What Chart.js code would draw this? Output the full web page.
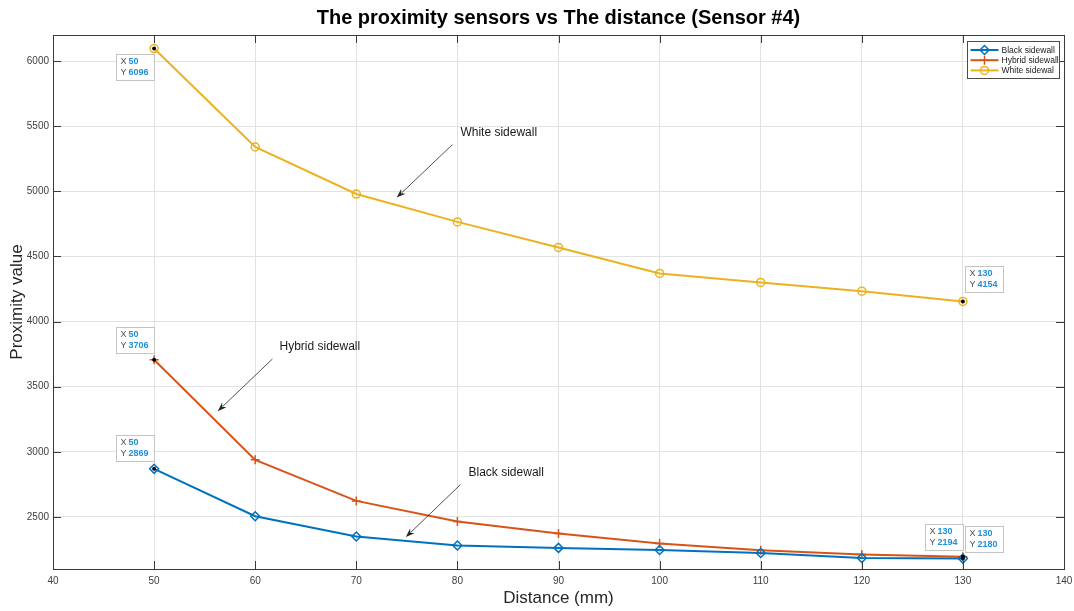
<!DOCTYPE html>
<html>
<head>
<meta charset="utf-8">
<title>The proximity sensors vs The distance (Sensor #4)</title>
<script src="https://cdn.jsdelivr.net/npm/chart.js@4.4.1/dist/chart.umd.min.js"></script>
<style>
  html, body { margin: 0; padding: 0; background: #ffffff; }
  #wrap { width: 1074px; height: 611px; }
</style>
</head>
<body>
<div id="wrap"><canvas id="c" width="1074" height="611"></canvas></div>
<script>
// Measured sensor readings (sensor #4) against target distance in mm
const distances      = [50, 60, 70, 80, 90, 100, 110, 120, 130];
const blackSidewall  = [2869, 2505, 2350, 2280, 2262, 2246, 2223, 2184, 2180];
const hybridSidewall = [3706, 2938, 2623, 2465, 2372, 2296, 2244, 2212, 2194];
const whiteSidewall  = [6096, 5340, 4979, 4765, 4569, 4369, 4300, 4233, 4154];

const seriesNames = ['Black sidewall', 'Hybrid sidewall', 'White sidewal'];

// Axis ticks
const xTicks = [40, 50, 60, 70, 80, 90, 100, 110, 120, 130, 140];
const yTicks = [2500, 3000, 3500, 4000, 4500, 5000, 5500, 6000];

const FONT = '"Liberation Sans", Arial, Helvetica, sans-serif';
const COLORS = ['#0072BD', '#D95319', '#EDB120'];
const STYLES = ['rectRot', 'cross', 'circle'];
const RADII = [4.5, 4.5, 4];

// Data tips: which series / point, and where the box sits relative to the point
const dataTips = [
  { ds: 2, idx: 0, dx: -38, dy: 5 },
  { ds: 1, idx: 0, dx: -38, dy: -33 },
  { ds: 0, idx: 0, dx: -38, dy: -34 },
  { ds: 1, idx: 8, dx: -38, dy: -33 },
  { ds: 0, idx: 8, dx: 2, dy: -33 },
  { ds: 2, idx: 8, dx: 2, dy: -35 }
];

// Text arrows, anchored in data units (label position, arrow tail, arrow head)
const arrowNotes = [
  { text: 'White sidewall',  tx: 80.3, ty: 5450, x0: 79.5, y0: 5358, x1: 74.0, y1: 4952 },
  { text: 'Hybrid sidewall', tx: 62.4, ty: 3804, x0: 61.7, y0: 3712, x1: 56.3, y1: 3312 },
  { text: 'Black sidewall',  tx: 81.1, ty: 2842, x0: 80.3, y0: 2748, x1: 74.9, y1: 2345 }
];

const seriesValues = [blackSidewall, hybridSidewall, whiteSidewall];

const datasets = seriesValues.map((vals, i) => ({
  label: seriesNames[i],
  data: distances.map((d, k) => ({ x: d, y: vals[k] })),
  borderColor: COLORS[i],
  backgroundColor: 'rgba(255,255,255,0)',
  borderWidth: 2,
  pointStyle: STYLES[i],
  pointRadius: RADII[i],
  pointBorderWidth: 1.5,
  pointBorderColor: COLORS[i],
  pointBackgroundColor: 'rgba(255,255,255,0)',
  pointHoverRadius: RADII[i],
  tension: 0,
  fill: false
}));

// Box frame, inward tick marks, title and axis labels
const framePlugin = {
  id: 'frame',
  afterDatasetsDraw(chart) {
    const { ctx, chartArea: a, scales } = chart;
    ctx.save();
    ctx.strokeStyle = '#3a3a3a';
    ctx.lineWidth = 1;
    ctx.strokeRect(Math.round(a.left) + 0.5, Math.round(a.top) + 0.5,
                   Math.round(a.right - a.left), Math.round(a.bottom - a.top));
    const tl = 8;
    ctx.beginPath();
    xTicks.forEach(v => {
      const x = Math.round(scales.x.getPixelForValue(v)) + 0.5;
      ctx.moveTo(x, a.bottom); ctx.lineTo(x, a.bottom - tl);
      ctx.moveTo(x, a.top); ctx.lineTo(x, a.top + tl);
    });
    yTicks.forEach(v => {
      const y = Math.round(scales.y.getPixelForValue(v)) + 0.5;
      ctx.moveTo(a.left, y); ctx.lineTo(a.left + tl, y);
      ctx.moveTo(a.right, y); ctx.lineTo(a.right - tl, y);
    });
    ctx.stroke();
    ctx.restore();
  },
  afterDraw(chart) {
    const { ctx, chartArea: a } = chart;
    const cx = (a.left + a.right) / 2;
    ctx.save();
    ctx.fillStyle = '#000000';
    ctx.textAlign = 'center';
    ctx.textBaseline = 'middle';
    ctx.font = 'bold 20px ' + FONT;
    ctx.fillText('The proximity sensors vs The distance (Sensor #4)', cx, 18);
    ctx.fillStyle = '#262626';
    ctx.font = '17px ' + FONT;
    ctx.fillText('Distance (mm)', cx, 598);
    ctx.translate(17, (a.top + a.bottom) / 2);
    ctx.rotate(-Math.PI / 2);
    ctx.fillText('Proximity value', 0, 0);
    ctx.restore();
  }
};

// Legend box in the upper right corner
const legendPlugin = {
  id: 'boxLegend',
  afterDraw(chart) {
    const { ctx, chartArea: a } = chart;
    const w = 92, h = 37;
    const left = Math.round(a.right - 5 - w) + 0.5;
    const top = Math.round(a.top + 6) + 0.5;
    ctx.save();
    ctx.fillStyle = '#ffffff';
    ctx.fillRect(left, top, w, h);
    ctx.strokeStyle = '#4a4a4a';
    ctx.lineWidth = 1;
    ctx.strokeRect(left, top, w, h);
    ctx.font = '8.5px ' + FONT;
    ctx.textBaseline = 'middle';
    ctx.textAlign = 'left';
    datasets.forEach((ds, i) => {
      const y = top + 8.5 + i * 10.2;
      ctx.strokeStyle = ds.borderColor;
      ctx.lineWidth = 2;
      ctx.beginPath();
      ctx.moveTo(left + 3, y); ctx.lineTo(left + 31, y);
      ctx.stroke();
      ctx.lineWidth = 1.5;
      ctx.fillStyle = 'rgba(255,255,255,0)';
      Chart.helpers.drawPoint(ctx, { pointStyle: ds.pointStyle, radius: ds.pointRadius, rotation: 0, borderWidth: 1.5 }, left + 17, y);
      ctx.fillStyle = '#1a1a1a';
      ctx.fillText(ds.label, left + 34, y + 0.5);
    });
    ctx.restore();
  }
};

// Arrow annotations
const arrowPlugin = {
  id: 'arrowNotes',
  afterDraw(chart) {
    const { ctx, scales } = chart;
    ctx.save();
    arrowNotes.forEach(n => {
      const x0 = scales.x.getPixelForValue(n.x0), y0 = scales.y.getPixelForValue(n.y0);
      const x1 = scales.x.getPixelForValue(n.x1), y1 = scales.y.getPixelForValue(n.y1);
      const ang = Math.atan2(y1 - y0, x1 - x0);
      const hl = 9, hw = 3.2;
      ctx.strokeStyle = '#262626';
      ctx.fillStyle = '#262626';
      ctx.lineWidth = 0.8;
      ctx.beginPath();
      ctx.moveTo(x0, y0);
      ctx.lineTo(x1 - Math.cos(ang) * hl * 0.8, y1 - Math.sin(ang) * hl * 0.8);
      ctx.stroke();
      ctx.beginPath();
      ctx.moveTo(x1, y1);
      ctx.lineTo(x1 - Math.cos(ang) * hl + Math.sin(ang) * hw, y1 - Math.sin(ang) * hl - Math.cos(ang) * hw);
      ctx.lineTo(x1 - Math.cos(ang) * hl * 0.7, y1 - Math.sin(ang) * hl * 0.7);
      ctx.lineTo(x1 - Math.cos(ang) * hl - Math.sin(ang) * hw, y1 - Math.sin(ang) * hl + Math.cos(ang) * hw);
      ctx.closePath();
      ctx.fill();
      ctx.fillStyle = '#1a1a1a';
      ctx.font = '12px ' + FONT;
      ctx.textAlign = 'left';
      ctx.textBaseline = 'middle';
      ctx.fillText(n.text, scales.x.getPixelForValue(n.tx), scales.y.getPixelForValue(n.ty));
    });
    ctx.restore();
  }
};

// Data tip boxes showing X / Y of selected points
const tipPlugin = {
  id: 'dataTips',
  afterDraw(chart) {
    const { ctx } = chart;
    ctx.save();
    dataTips.forEach(t => {
      const el = chart.getDatasetMeta(t.ds).data[t.idx];
      const px = el.x, py = el.y;
      const xs = String(distances[t.idx]);
      const ys = String(seriesValues[t.ds][t.idx]);
      ctx.font = 'bold 9px ' + FONT;
      const vw = Math.max(ctx.measureText(xs).width, ctx.measureText(ys).width);
      const w = Math.round(vw + 18), h = 26;
      const left = Math.round(px + t.dx) + 0.5, top = Math.round(py + t.dy) + 0.5;
      ctx.fillStyle = 'rgba(255,255,255,0.92)';
      ctx.fillRect(left, top, w, h);
      ctx.strokeStyle = '#c4c4c4';
      ctx.lineWidth = 1;
      ctx.strokeRect(left, top, w, h);
      ctx.textBaseline = 'middle';
      ctx.textAlign = 'left';
      ctx.font = '9px ' + FONT;
      ctx.fillStyle = '#4d4d4d';
      ctx.fillText('X', left + 4, top + 7.5);
      ctx.fillText('Y', left + 4, top + 18.5);
      ctx.font = 'bold 9px ' + FONT;
      ctx.fillStyle = '#1f8fd8';
      ctx.fillText(xs, left + 12, top + 7.5);
      ctx.fillText(ys, left + 12, top + 18.5);
      ctx.fillStyle = '#000000';
      ctx.beginPath();
      ctx.arc(px, py, 2, 0, Math.PI * 2);
      ctx.fill();
    });
    ctx.restore();
  }
};

new Chart(document.getElementById('c'), {
  type: 'line',
  data: { datasets },
  options: {
    responsive: false,
    devicePixelRatio: 1,
    animation: false,
    events: [],
    layout: { padding: { top: 35, right: 10, left: 0, bottom: 0 } },
    plugins: {
      legend: { display: false },
      title: { display: false },
      tooltip: { enabled: false }
    },
    scales: {
      x: {
        type: 'linear',
        min: 40,
        max: 140,
        afterBuildTicks: s => { s.ticks = xTicks.map(v => ({ value: v })); },
        afterFit: s => { s.height = 42; s.paddingLeft = 0; s.paddingRight = 0; },
        grid: { color: '#e2e2e2', lineWidth: 1, drawTicks: false },
        border: { display: false },
        ticks: { font: { family: FONT, size: 10 }, color: '#404040', padding: 6, maxRotation: 0, autoSkip: false,
                 callback: v => String(v) }
      },
      y: {
        type: 'linear',
        min: 2100,
        max: 6200,
        afterBuildTicks: s => { s.ticks = yTicks.map(v => ({ value: v })); },
        afterFit: s => { s.width = 53; s.paddingTop = 0; s.paddingBottom = 0; },
        grid: { color: '#e2e2e2', lineWidth: 1, drawTicks: false },
        border: { display: false },
        ticks: { font: { family: FONT, size: 10 }, color: '#404040', padding: 4,
                 callback: v => String(v) }
      }
    }
  },
  plugins: [framePlugin, legendPlugin, arrowPlugin, tipPlugin]
});
</script>
</body>
</html>
